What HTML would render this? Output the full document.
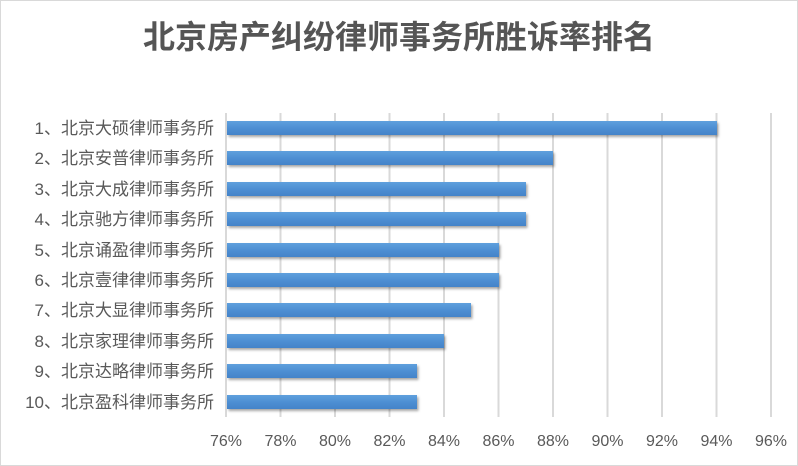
<!DOCTYPE html>
<html><head><meta charset="utf-8"><style>
body{margin:0;background:#fff}
svg{display:block;font-family:"Liberation Sans","Noto Sans CJK SC",sans-serif}
</style></head><body>
<svg width="798" height="466" viewBox="0 0 798 466" xmlns="http://www.w3.org/2000/svg">
<defs>
<linearGradient id="g" x1="0" y1="0" x2="0" y2="1">
<stop offset="0" stop-color="#5fa0dd"/><stop offset="0.5" stop-color="#4e8fd3"/><stop offset="1" stop-color="#4383c9"/>
</linearGradient>
<filter id="s" x="-5%" y="-50%" width="110%" height="200%"><feDropShadow dx="1.5" dy="2" stdDeviation="1.2" flood-color="#000" flood-opacity="0.35"/></filter>
</defs>
<rect x="0.5" y="0.5" width="797" height="465" fill="#fff" stroke="#d9d9d9"/>
<text x="399" y="48" text-anchor="middle" font-size="32" font-weight="bold" fill="#555">北京房产纠纷律师事务所胜诉率排名</text>
<g stroke="#d9d9d9" stroke-width="2">
<line x1="226" y1="113" x2="226" y2="417"/><line x1="280.5" y1="113" x2="280.5" y2="417"/><line x1="335" y1="113" x2="335" y2="417"/><line x1="389.5" y1="113" x2="389.5" y2="417"/><line x1="444" y1="113" x2="444" y2="417"/><line x1="498.5" y1="113" x2="498.5" y2="417"/><line x1="553" y1="113" x2="553" y2="417"/><line x1="607.5" y1="113" x2="607.5" y2="417"/><line x1="662" y1="113" x2="662" y2="417"/><line x1="716.5" y1="113" x2="716.5" y2="417"/><line x1="771" y1="113" x2="771" y2="417"/>
</g>
<g font-size="16" fill="#595959" text-anchor="middle">
<text x="226" y="446">76%</text><text x="280.5" y="446">78%</text><text x="335" y="446">80%</text><text x="389.5" y="446">82%</text><text x="444" y="446">84%</text><text x="498.5" y="446">86%</text><text x="553" y="446">88%</text><text x="607.5" y="446">90%</text><text x="662" y="446">92%</text><text x="716.5" y="446">94%</text><text x="771" y="446">96%</text>
</g>
<g fill="url(#g)" filter="url(#s)">
<rect x="227" y="121" width="490" height="14"/>
<rect x="227" y="151" width="326" height="14"/>
<rect x="227" y="182" width="299" height="14"/>
<rect x="227" y="212" width="299" height="14"/>
<rect x="227" y="243" width="272" height="14"/>
<rect x="227" y="273" width="272" height="14"/>
<rect x="227" y="303" width="244" height="14"/>
<rect x="227" y="334" width="217" height="14"/>
<rect x="227" y="364" width="190" height="14"/>
<rect x="227" y="395" width="190" height="14"/>
</g>
<g font-size="17" fill="#595959" text-anchor="end">
<text x="214" y="134">1、北京大硕律师事务所</text>
<text x="214" y="164">2、北京安普律师事务所</text>
<text x="214" y="195">3、北京大成律师事务所</text>
<text x="214" y="225">4、北京驰方律师事务所</text>
<text x="214" y="256">5、北京诵盈律师事务所</text>
<text x="214" y="286">6、北京壹律律师事务所</text>
<text x="214" y="316">7、北京大显律师事务所</text>
<text x="214" y="347">8、北京家理律师事务所</text>
<text x="214" y="377">9、北京达略律师事务所</text>
<text x="214" y="408">10、北京盈科律师事务所</text>
</g>
</svg>
</body></html>
